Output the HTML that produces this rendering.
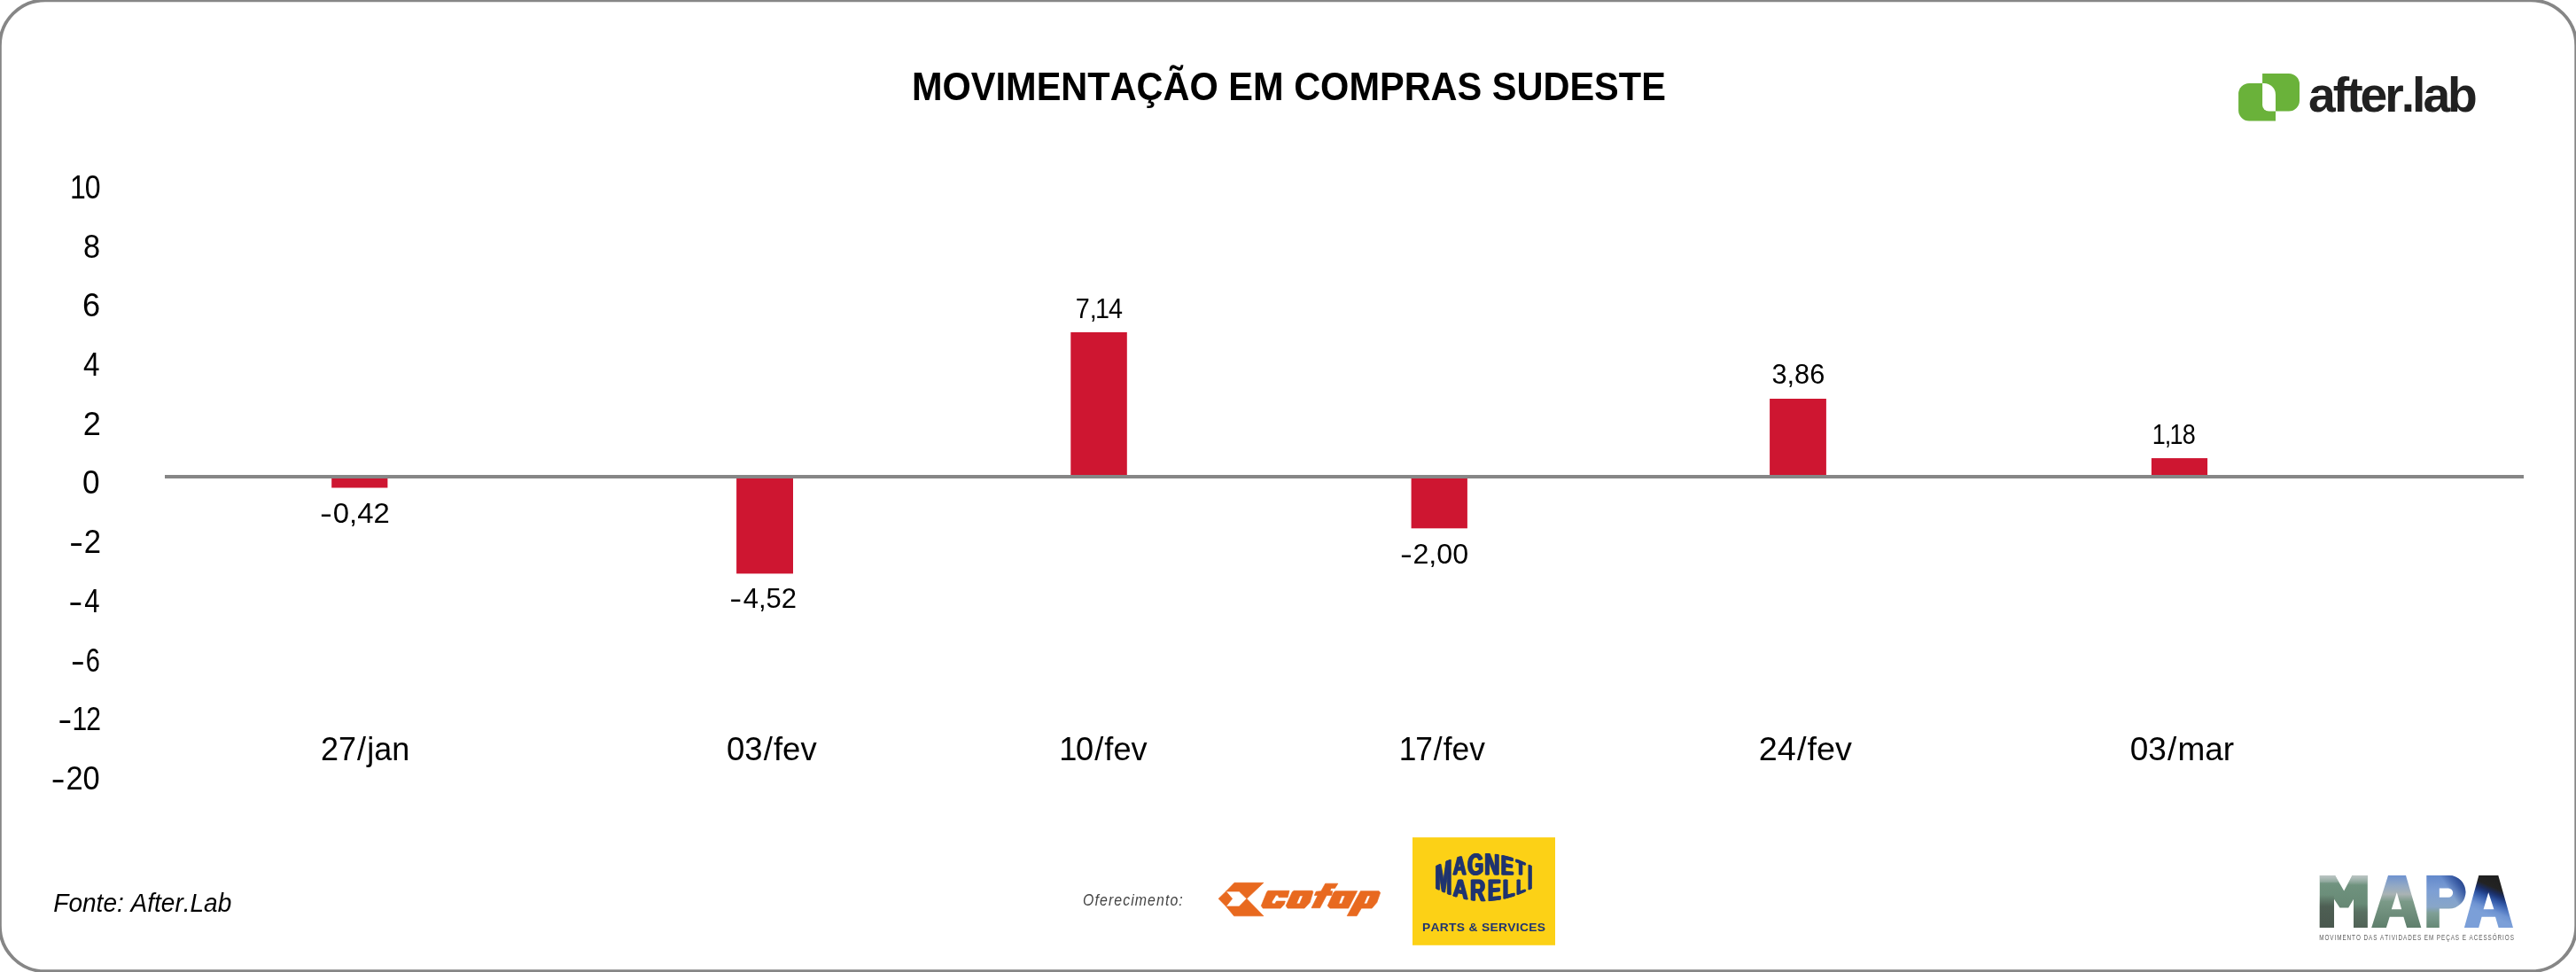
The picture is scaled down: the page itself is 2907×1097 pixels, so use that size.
<!DOCTYPE html>
<html lang="pt-BR"><head><meta charset="utf-8"><title>Movimentação em compras Sudeste</title>
<style>
html,body{margin:0;padding:0;background:#fff;}
body{width:2907px;height:1097px;overflow:hidden;font-family:"Liberation Sans",sans-serif;}
svg{display:block;position:absolute;left:0;top:0;will-change:transform;filter:opacity(0.9999);}
svg text{font-family:"Liberation Sans",sans-serif;font-kerning:none;white-space:pre;}
</style></head><body>
<svg width="2907" height="1097" viewBox="0 0 2907 1097">
<rect x="0" y="0" width="2907" height="1097" fill="#fff"/>

<rect x="-0.1" y="0.3" width="2907.3" height="1095.9" rx="51.1" ry="51.1" fill="#fff" stroke="#868686" stroke-width="3.8"/>
<text transform="translate(1029.02 112.90) scale(0.9394 1)" font-size="44.19" font-weight="bold" font-style="normal" fill="#000">MOVIMENTAÇÃO EM COMPRAS SUDESTE</text>
<text transform="translate(79.06 223.90) scale(0.8631 1)" font-size="37.09" font-weight="normal" font-style="normal" fill="#000" dx="0.00 -1.30">10</text>
<text transform="translate(94.01 290.60) scale(0.9250 1)" font-size="37.09" font-weight="normal" font-style="normal" fill="#000">8</text>
<text transform="translate(93.06 357.30) scale(0.9757 1)" font-size="37.09" font-weight="normal" font-style="normal" fill="#000">6</text>
<text transform="translate(94.03 424.00) scale(0.8988 1)" font-size="37.09" font-weight="normal" font-style="normal" fill="#000">4</text>
<text transform="translate(93.78 490.70) scale(0.9764 1)" font-size="37.09" font-weight="normal" font-style="normal" fill="#000">2</text>
<text transform="translate(92.93 557.40) scale(0.9475 1)" font-size="37.09" font-weight="normal" font-style="normal" fill="#000">0</text>
<text transform="translate(77.94 624.10) scale(1.3107 1)" font-size="37.09" font-weight="normal" font-style="normal" fill="#000">-</text>
<text transform="translate(94.86 624.10) scale(0.9346 1)" font-size="37.09" font-weight="normal" font-style="normal" fill="#000">2</text>
<text transform="translate(77.34 690.80) scale(1.3107 1)" font-size="37.09" font-weight="normal" font-style="normal" fill="#000">-</text>
<text transform="translate(95.29 690.80) scale(0.8396 1)" font-size="37.09" font-weight="normal" font-style="normal" fill="#000">4</text>
<text transform="translate(79.64 757.50) scale(1.3107 1)" font-size="37.09" font-weight="normal" font-style="normal" fill="#000">-</text>
<text transform="translate(96.83 757.50) scale(0.7825 1)" font-size="37.09" font-weight="normal" font-style="normal" fill="#000">6</text>
<text transform="translate(65.14 824.20) scale(1.3107 1)" font-size="37.09" font-weight="normal" font-style="normal" fill="#000">-</text>
<text transform="translate(81.52 824.20) scale(0.8107 1)" font-size="37.09" font-weight="normal" font-style="normal" fill="#000" dx="0.00 -1.30">12</text>
<text transform="translate(57.54 890.90) scale(1.3107 1)" font-size="37.09" font-weight="normal" font-style="normal" fill="#000">-</text>
<text transform="translate(74.48 890.90) scale(0.9275 1)" font-size="37.09" font-weight="normal" font-style="normal" fill="#000">20</text>
<rect x="374.2" y="540" width="63.2" height="10.5" fill="#ce1631"/>
<rect x="831.1" y="540" width="63.9" height="107.4" fill="#ce1631"/>
<rect x="1208.3" y="375" width="63.5" height="161.0" fill="#ce1631"/>
<rect x="1592.6" y="540" width="63.3" height="56.3" fill="#ce1631"/>
<rect x="1997.1" y="450" width="63.8" height="86.0" fill="#ce1631"/>
<rect x="2427.9" y="517.1" width="63.2" height="18.9" fill="#ce1631"/>
<rect x="186" y="536" width="2662" height="4" fill="#868686"/>
<text transform="translate(361.04 590.00) scale(1.3107 1)" font-size="31.94" font-weight="normal" font-style="normal" fill="#000">-</text>
<text transform="translate(375.83 590.00) scale(1.0301 1)" font-size="31.94" font-weight="normal" font-style="normal" fill="#000">0,42</text>
<text transform="translate(823.34 685.60) scale(1.3107 1)" font-size="31.94" font-weight="normal" font-style="normal" fill="#000">-</text>
<text transform="translate(838.70 685.60) scale(0.9694 1)" font-size="31.94" font-weight="normal" font-style="normal" fill="#000">4,52</text>
<text transform="translate(1213.83 358.80) scale(0.9001 1)" font-size="31.94" font-weight="normal" font-style="normal" fill="#000" dx="0.00 0.00 -1.92 -1.12">7,14</text>
<text transform="translate(1579.94 635.90) scale(1.3107 1)" font-size="31.94" font-weight="normal" font-style="normal" fill="#000">-</text>
<text transform="translate(1594.39 635.90) scale(1.0098 1)" font-size="31.94" font-weight="normal" font-style="normal" fill="#000">2,00</text>
<text transform="translate(1999.43 433.40) scale(0.9624 1)" font-size="31.94" font-weight="normal" font-style="normal" fill="#000">3,86</text>
<text transform="translate(2428.64 500.90) scale(0.8452 1)" font-size="31.94" font-weight="normal" font-style="normal" fill="#000" dx="0.00 -1.12 -1.92 -1.12">1,18</text>
<text transform="translate(361.99 857.70) scale(0.9819 1)" font-size="36.66" font-weight="normal" font-style="normal" fill="#000" dx="0.00 0.00 1.10 1.10 0.00 0.00">27/jan</text>
<text transform="translate(819.97 857.70) scale(0.9968 1)" font-size="36.66" font-weight="normal" font-style="normal" fill="#000" dx="0.00 0.00 1.10 1.10 0.00 0.00">03/fev</text>
<text transform="translate(1195.14 857.70) scale(0.9870 1)" font-size="36.66" font-weight="normal" font-style="normal" fill="#000" dx="0.00 -1.28 1.10 1.10 0.00 0.00">10/fev</text>
<text transform="translate(1578.71 857.70) scale(0.9645 1)" font-size="36.66" font-weight="normal" font-style="normal" fill="#000" dx="0.00 -1.28 1.10 1.10 0.00 0.00">17/fev</text>
<text transform="translate(1984.80 857.70) scale(1.0309 1)" font-size="36.66" font-weight="normal" font-style="normal" fill="#000" dx="0.00 0.00 1.10 1.10 0.00 0.00">24/fev</text>
<text transform="translate(2403.75 857.70) scale(1.0090 1)" font-size="36.66" font-weight="normal" font-style="normal" fill="#000" dx="0.00 0.00 1.10 1.10 0.00 0.00">03/mar</text>
<text transform="translate(60.34 1029.00) scale(0.9692 1)" font-size="28.92" font-weight="normal" font-style="italic" fill="#000">Fonte: After.Lab</text>
<text transform="translate(1222.04 1021.60) scale(0.8401 1)" font-size="18.90" font-weight="normal" font-style="italic" fill="#444" letter-spacing="1.300">Oferecimento:</text>
<g id="afterlab">
<path fill="#6ab23a" d="M2538.1 93.9H2568V136.6H2538.1A12 12 0 0 1 2526.1 124.6V105.9A12 12 0 0 1 2538.1 93.9Z"/>
<path fill="#6ab23a" d="M2553.1 83.05H2583A12 12 0 0 1 2595 95.05V113.6A12 12 0 0 1 2583 125.6H2553.1Z"/>
<path fill="#fff" d="M2553.1 93.9H2555A13 13 0 0 1 2568 106.9V125.6H2560.3A7.2 7.2 0 0 1 2553.1 118.4Z"/>
</g>
<text transform="translate(2605.08 126.10) scale(1.0066 1)" font-size="54.89" font-weight="bold" font-style="normal" fill="#212121" letter-spacing="-3.000">after.lab</text>
<g id="cofap" fill="#e8691f" stroke="#e8691f" stroke-width="0.7" stroke-linejoin="round">
<polygon points="1383.6,1006.0 1393.0,996.3 1425.9,996.3 1406.9,1014.3 1398.4,1006.0"/>
<polygon points="1383.6,1023.0 1392.6,1033.8 1425.9,1033.8 1406.9,1014.3 1398.4,1023.0"/>
<polygon points="1375.1,1014.3 1383.6,1006.0 1390.6,1014.3 1383.6,1023.0"/>
<polygon points="1430.9,1005.3 1455.0,1005.3 1453.1,1012.8 1443.2,1012.8 1442.2,1010.2 1439.9,1010.2 1435.1,1018.0 1436.1,1019.9 1438.9,1019.9 1440.4,1017.1 1450.3,1017.1 1449.3,1020.4 1445.1,1025.1 1425.2,1025.1 1423.3,1022.3 1429.5,1007.1"/>
<path fill-rule="evenodd" d="M1460.2,1005.3 1481.1,1005.3 1481.8,1006.7 1478.2,1018.5 1472.1,1025.1 1453.1,1025.1 1451.2,1022.3 1458.3,1006.7Z M1466.9,1010.9 1470.4,1010.9 1466.6,1019.9 1463.1,1019.9Z"/>
<polygon points="1495.6,997.2 1509.8,997.2 1506.5,1002.4 1502.2,1002.4 1500.8,1005.7 1503.7,1005.7 1502.7,1010.5 1497.0,1010.5 1489.5,1024.7 1480.0,1024.7 1487.1,1010.5 1483.3,1010.5 1485.2,1006.2 1490.9,1005.7"/>
<path fill-rule="evenodd" d="M1507.0,1005.7 1531.6,1005.7 1521.7,1025.1 1500.8,1025.1 1498.2,1022.3 1505.1,1007.1Z M1514.1,1010.9 1517.9,1010.9 1514.1,1019.9 1510.8,1019.9Z"/>
<path fill-rule="evenodd" d="M1535.4,1005.7 1556.2,1005.7 1557.6,1007.6 1553.8,1018.5 1548.2,1025.1 1536.3,1025.1 1531.1,1033.7 1520.2,1033.7Z M1543.0,1010.9 1546.3,1010.9 1542.5,1019.9 1539.2,1019.9Z"/>
</g>
<g id="mm"><rect x="1594" y="945.1" width="161" height="121.7" fill="#fcd116"/>
<g fill="#1f3470" stroke="#1f3470" stroke-width="0.7" stroke-linejoin="round"><path transform="translate(-0.65 0)" d="M1633.9 1008.7L1633.9 1005.5L1633.9 1002.2L1633.9 999.0L1633.9 995.8L1633.9 992.6L1633.9 989.4L1633.9 986.2L1633.9 985.9L1633.9 985.5L1633.9 985.2L1633.9 984.9L1633.9 984.6L1633.9 984.1L1633.9 983.2L1633.9 981.9L1633.9 980.2L1634.0 978.0L1633.7 980.8L1633.4 983.1L1633.2 985.1L1633.0 986.7L1632.8 988.0L1632.4 990.9L1632.0 993.7L1631.6 996.5L1631.2 999.2L1630.8 1001.9L1630.4 1004.5L1630.1 1007.1L1627.8 1006.1L1627.4 1003.4L1627.0 1000.7L1626.6 998.1L1626.2 995.6L1625.8 993.2L1625.4 990.7L1625.0 988.4L1624.6 985.9L1624.2 983.4L1623.8 981.0L1623.9 982.7L1623.9 984.2L1623.9 985.4L1623.9 986.4L1623.9 987.1L1623.9 989.5L1623.9 992.0L1623.9 994.4L1623.9 996.9L1623.9 999.3L1623.9 1001.8L1623.9 1004.2L1622.5 1003.5L1621.1 1002.8L1621.1 1000.7L1621.1 998.6L1621.1 996.4L1621.1 994.3L1621.1 992.2L1621.1 990.1L1621.1 988.0L1621.1 985.9L1621.1 983.8L1621.1 981.6L1621.1 979.5L1621.1 977.4L1622.5 976.7L1624.0 976.0L1625.4 975.3L1625.8 977.5L1626.2 979.7L1626.6 982.1L1627.0 984.5L1627.4 986.9L1627.8 989.4L1628.2 992.0L1628.4 993.8L1628.9 998.3L1629.3 995.7L1629.6 993.0L1630.0 990.2L1630.4 987.3L1630.8 984.4L1631.2 981.4L1631.6 978.4L1632.0 975.3L1632.4 972.1L1633.9 971.5L1635.3 971.0L1636.7 970.4L1636.7 973.7L1636.7 977.0L1636.7 980.3L1636.7 983.5L1636.7 986.8L1636.7 990.1L1636.7 993.4L1636.7 996.7L1636.7 999.9L1636.7 1003.2L1636.7 1006.5L1636.7 1009.8ZM1725.5 1004.0L1725.5 1001.7L1725.5 999.3L1725.5 997.0L1725.5 994.7L1725.5 992.4L1725.5 990.1L1725.5 987.8L1725.5 985.5L1725.5 983.2L1725.5 980.9L1725.5 978.5L1725.5 976.2L1726.7 976.8L1727.8 977.4L1727.8 979.5L1727.8 981.6L1727.8 983.8L1727.8 985.9L1727.8 988.0L1727.8 990.1L1727.8 992.2L1727.8 994.3L1727.8 996.4L1727.8 998.6L1727.8 1000.7L1727.8 1002.8ZM1651.1 987.1L1650.7 985.4L1650.2 983.6L1649.8 981.9L1648.5 981.9L1647.1 982.0L1645.8 982.1L1644.4 982.2L1644.0 983.9L1643.6 985.5L1643.1 987.1L1641.7 987.1L1640.2 987.1L1640.6 985.6L1641.0 984.1L1641.5 982.6L1641.9 981.0L1642.3 979.4L1642.8 977.8L1643.2 976.1L1643.6 974.5L1644.1 972.8L1644.5 971.1L1644.9 969.3L1645.3 967.6L1646.5 967.3L1647.7 967.0L1648.9 966.7L1649.3 968.3L1649.7 969.9L1650.1 971.5L1650.6 973.2L1651.0 974.9L1651.4 976.6L1651.9 978.3L1652.3 980.1L1652.7 981.8L1653.2 983.6L1653.6 985.4L1654.0 987.1ZM1647.1 970.2L1647.0 970.5L1647.0 970.8L1647.0 971.0L1646.9 971.2L1646.9 971.5L1646.8 971.7L1646.7 972.3L1646.5 973.3L1646.1 974.8L1645.6 976.7L1645.1 979.1L1646.4 979.0L1647.8 978.8L1649.1 978.7L1648.7 976.7L1648.2 974.9L1647.7 973.0L1647.3 971.1ZM1665.3 983.7L1665.8 983.6L1666.3 983.6L1666.8 983.4L1667.3 983.3L1667.8 983.1L1668.3 982.8L1668.7 982.6L1669.1 982.3L1669.4 982.0L1669.7 981.6L1669.7 978.4L1668.4 978.4L1667.1 978.4L1665.8 978.5L1665.8 974.8L1667.2 974.8L1668.6 974.7L1670.0 974.7L1671.3 974.7L1672.7 974.7L1672.7 976.8L1672.7 979.0L1672.7 981.2L1672.7 983.4L1672.2 984.1L1671.6 984.8L1670.9 985.4L1670.2 985.9L1669.4 986.4L1668.6 986.8L1667.8 987.1L1666.9 987.3L1666.1 987.4L1665.2 987.5L1663.7 987.4L1662.3 987.0L1661.2 986.4L1660.1 985.5L1659.2 984.4L1658.4 983.1L1657.8 981.6L1657.4 979.9L1657.2 978.0L1657.1 975.9L1657.2 973.8L1657.4 971.9L1657.9 970.2L1658.4 968.6L1659.2 967.2L1660.1 966.0L1661.2 965.1L1662.4 964.3L1663.7 963.8L1665.3 963.5L1667.3 963.6L1669.1 964.2L1670.5 965.4L1671.6 967.1L1672.4 969.3L1670.9 970.0L1669.3 970.7L1669.1 970.1L1668.8 969.5L1668.5 968.9L1668.2 968.5L1667.8 968.1L1667.3 967.8L1666.8 967.6L1666.3 967.4L1665.8 967.3L1665.3 967.4L1664.4 967.5L1663.6 967.8L1662.8 968.3L1662.2 968.9L1661.7 969.7L1661.2 970.7L1660.9 971.7L1660.7 972.9L1660.5 974.2L1660.5 975.7L1660.5 977.1L1660.7 978.5L1660.9 979.7L1661.3 980.7L1661.7 981.6L1662.3 982.3L1662.9 982.9L1663.6 983.3L1664.4 983.6L1665.3 983.7ZM1686.8 987.1L1686.0 985.2L1685.2 983.2L1684.4 981.2L1683.6 979.2L1682.8 977.2L1682.1 975.1L1681.3 973.1L1680.5 971.0L1679.7 969.0L1679.8 970.0L1679.8 971.0L1679.9 971.8L1679.9 972.6L1679.9 973.3L1679.9 975.2L1679.9 977.2L1679.9 979.2L1679.9 981.2L1679.9 983.2L1679.9 985.2L1679.9 987.1L1678.4 987.1L1676.9 987.1L1676.9 985.2L1676.9 983.2L1676.9 981.2L1676.9 979.3L1676.9 977.3L1676.9 975.3L1676.9 973.3L1676.9 971.4L1676.9 969.4L1676.9 967.4L1676.9 965.5L1676.9 963.5L1678.2 963.5L1679.5 963.6L1680.8 963.6L1681.6 965.7L1682.4 967.8L1683.2 969.9L1684.0 971.9L1684.8 974.0L1685.5 976.0L1686.3 978.0L1687.1 980.1L1687.9 982.1L1687.9 981.1L1687.8 980.2L1687.8 979.3L1687.7 978.4L1687.7 977.6L1687.7 975.7L1687.7 973.8L1687.7 971.9L1687.7 970.0L1687.7 968.1L1687.7 966.2L1687.7 964.3L1689.2 964.5L1690.7 964.8L1690.7 966.6L1690.7 968.5L1690.7 970.4L1690.7 972.2L1690.7 974.1L1690.7 976.0L1690.7 977.8L1690.7 979.7L1690.7 981.6L1690.7 983.4L1690.7 985.3L1690.7 987.1ZM1695.3 987.1L1695.3 985.4L1695.3 983.6L1695.3 981.8L1695.3 980.0L1695.3 978.2L1695.3 976.4L1695.3 974.6L1695.3 972.8L1695.3 971.0L1695.3 969.2L1695.3 967.4L1695.3 965.6L1696.4 965.8L1697.6 966.1L1698.7 966.3L1699.9 966.6L1701.1 966.9L1702.2 967.2L1703.4 967.6L1704.6 967.9L1705.7 968.2L1706.9 968.6L1706.9 970.1L1706.9 971.6L1705.7 971.3L1704.4 971.0L1703.2 970.7L1702.0 970.4L1700.8 970.1L1699.6 969.9L1698.4 969.6L1698.4 971.4L1698.4 973.1L1698.4 974.9L1699.7 975.1L1701.0 975.3L1702.3 975.5L1703.6 975.7L1704.9 975.9L1706.2 976.1L1706.2 977.7L1706.2 979.2L1704.9 979.0L1703.6 978.8L1702.3 978.7L1701.0 978.5L1699.7 978.4L1698.4 978.3L1698.4 980.1L1698.4 981.9L1698.4 983.8L1699.6 983.8L1700.9 983.9L1702.2 983.9L1703.5 984.0L1704.7 984.0L1706.0 984.1L1707.3 984.2L1707.3 985.7L1707.3 987.1ZM1717.3 974.8L1717.3 976.0L1717.3 977.3L1717.3 978.5L1717.3 979.7L1717.3 981.0L1717.3 982.2L1717.3 983.4L1717.3 984.7L1717.3 985.9L1717.3 987.1L1716.0 987.1L1714.8 987.1L1714.8 985.8L1714.8 984.5L1714.8 983.2L1714.8 981.9L1714.8 980.6L1714.8 979.3L1714.8 977.9L1714.8 976.6L1714.8 975.3L1714.8 974.0L1713.9 973.7L1713.0 973.4L1712.0 973.1L1711.1 972.8L1711.1 971.4L1711.1 970.0L1712.1 970.4L1713.1 970.8L1714.1 971.1L1715.1 971.5L1716.0 971.9L1717.0 972.3L1718.0 972.8L1719.0 973.2L1720.0 973.6L1721.0 974.1L1721.0 975.1L1721.0 976.2ZM1652.5 1014.4L1652.0 1012.5L1651.5 1010.6L1651.1 1008.7L1649.5 1008.4L1648.0 1008.1L1646.5 1007.8L1645.0 1007.5L1644.5 1009.1L1644.0 1010.6L1643.5 1012.1L1641.8 1011.5L1640.2 1011.0L1640.7 1009.6L1641.1 1008.3L1641.6 1006.9L1642.1 1005.4L1642.6 1004.0L1643.1 1002.5L1643.6 1001.0L1644.1 999.4L1644.6 997.9L1645.0 996.3L1645.5 994.7L1646.0 993.1L1647.3 993.1L1648.7 993.1L1650.0 993.1L1650.5 994.8L1651.0 996.5L1651.4 998.3L1651.9 1000.1L1652.4 1001.9L1652.9 1003.8L1653.4 1005.6L1653.9 1007.5L1654.4 1009.3L1654.8 1011.2L1655.3 1013.1L1655.8 1015.0ZM1648.0 996.2L1647.9 996.5L1647.9 996.7L1647.8 996.9L1647.8 997.1L1647.7 997.4L1647.7 997.6L1647.5 998.1L1647.3 999.1L1646.9 1000.5L1646.4 1002.3L1645.7 1004.6L1647.2 1004.8L1648.8 1005.1L1650.3 1005.3L1649.8 1003.2L1649.3 1001.2L1648.7 999.2L1648.2 997.2ZM1671.8 1016.7L1670.9 1014.4L1669.9 1012.2L1669.0 1009.9L1668.1 1007.6L1666.7 1007.6L1665.4 1007.5L1664.1 1007.4L1664.1 1009.6L1664.1 1011.8L1664.1 1014.0L1664.1 1016.2L1662.4 1016.0L1660.7 1015.8L1660.7 1013.9L1660.7 1012.0L1660.7 1010.1L1660.7 1008.2L1660.7 1006.3L1660.7 1004.4L1660.7 1002.5L1660.7 1000.6L1660.7 998.7L1660.7 996.8L1660.7 994.9L1660.7 993.1L1662.0 993.1L1663.4 993.1L1664.7 993.1L1666.1 993.1L1667.4 993.1L1668.8 993.1L1669.9 993.1L1670.9 993.3L1671.8 993.7L1672.6 994.2L1673.2 994.9L1673.8 995.7L1674.2 996.6L1674.6 997.6L1674.8 998.8L1674.8 1000.1L1674.8 1001.1L1674.7 1002.0L1674.5 1002.9L1674.2 1003.7L1673.9 1004.4L1673.4 1005.1L1673.0 1005.7L1672.4 1006.1L1671.9 1006.5L1671.2 1006.8L1672.1 1008.8L1673.0 1010.8L1673.9 1012.8L1674.7 1014.8L1675.6 1016.7ZM1671.4 1000.3L1671.3 999.1L1670.9 998.1L1670.3 997.4L1669.5 997.0L1668.4 996.9L1667.0 996.9L1665.5 996.8L1664.1 996.8L1664.1 999.1L1664.1 1001.4L1664.1 1003.7L1665.6 1003.7L1667.0 1003.8L1668.5 1003.8L1669.1 1003.8L1669.5 1003.7L1670.0 1003.5L1670.3 1003.3L1670.7 1002.9L1670.9 1002.5L1671.1 1002.1L1671.3 1001.5L1671.4 1001.0L1671.4 1000.3ZM1680.5 1016.6L1680.5 1014.6L1680.5 1012.7L1680.5 1010.7L1680.5 1008.7L1680.5 1006.8L1680.5 1004.8L1680.5 1002.9L1680.5 1000.9L1680.5 998.9L1680.5 997.0L1680.5 995.0L1680.5 993.1L1681.7 993.1L1682.9 993.1L1684.1 993.1L1685.3 993.1L1686.5 993.1L1687.7 993.1L1688.9 993.1L1690.1 993.1L1691.3 993.1L1692.5 993.1L1692.5 994.8L1692.5 996.6L1691.2 996.7L1690.0 996.7L1688.7 996.7L1687.4 996.8L1686.2 996.8L1684.9 996.8L1683.7 996.8L1683.7 998.8L1683.7 1000.7L1683.7 1002.7L1685.0 1002.6L1686.4 1002.6L1687.7 1002.5L1689.1 1002.4L1690.4 1002.3L1691.8 1002.2L1691.8 1004.0L1691.8 1005.8L1690.4 1006.0L1689.1 1006.1L1687.7 1006.2L1686.4 1006.3L1685.0 1006.4L1683.7 1006.4L1683.7 1008.5L1683.7 1010.5L1683.7 1012.6L1685.0 1012.5L1686.3 1012.3L1687.6 1012.2L1689.0 1012.1L1690.3 1011.9L1691.6 1011.7L1692.9 1011.5L1692.9 1013.3L1692.9 1015.1ZM1697.4 1014.2L1697.4 1012.4L1697.4 1010.6L1697.4 1008.9L1697.4 1007.1L1697.4 1005.4L1697.4 1003.6L1697.4 1001.8L1697.4 1000.1L1697.4 998.3L1697.4 996.6L1697.4 994.8L1697.4 993.1L1699.0 993.1L1700.6 993.1L1700.6 994.8L1700.6 996.5L1700.6 998.2L1700.6 999.9L1700.6 1001.6L1700.6 1003.3L1700.6 1005.0L1700.6 1006.7L1700.6 1008.4L1700.6 1010.1L1702.0 1009.8L1703.3 1009.5L1704.7 1009.2L1706.0 1008.8L1707.4 1008.5L1708.7 1008.1L1708.7 1009.5L1708.7 1011.0ZM1712.5 1009.6L1712.5 1008.3L1712.5 1006.9L1712.5 1005.5L1712.5 1004.1L1712.5 1002.7L1712.5 1001.3L1712.5 1000.0L1712.5 998.6L1712.5 997.2L1712.5 995.8L1712.5 994.4L1712.5 993.1L1713.7 993.1L1714.9 993.1L1714.9 994.4L1714.9 995.7L1714.9 997.0L1714.9 998.3L1714.9 999.6L1714.9 1000.9L1714.9 1002.2L1714.9 1003.6L1714.9 1004.9L1714.9 1006.2L1715.9 1005.8L1716.9 1005.5L1718.0 1005.1L1719.0 1004.8L1720.0 1004.4L1721.0 1004.0L1721.0 1005.1L1721.0 1006.1Z"/><path d="M1633.9 1008.7L1633.9 1005.5L1633.9 1002.2L1633.9 999.0L1633.9 995.8L1633.9 992.6L1633.9 989.4L1633.9 986.2L1633.9 985.9L1633.9 985.5L1633.9 985.2L1633.9 984.9L1633.9 984.6L1633.9 984.1L1633.9 983.2L1633.9 981.9L1633.9 980.2L1634.0 978.0L1633.7 980.8L1633.4 983.1L1633.2 985.1L1633.0 986.7L1632.8 988.0L1632.4 990.9L1632.0 993.7L1631.6 996.5L1631.2 999.2L1630.8 1001.9L1630.4 1004.5L1630.1 1007.1L1627.8 1006.1L1627.4 1003.4L1627.0 1000.7L1626.6 998.1L1626.2 995.6L1625.8 993.2L1625.4 990.7L1625.0 988.4L1624.6 985.9L1624.2 983.4L1623.8 981.0L1623.9 982.7L1623.9 984.2L1623.9 985.4L1623.9 986.4L1623.9 987.1L1623.9 989.5L1623.9 992.0L1623.9 994.4L1623.9 996.9L1623.9 999.3L1623.9 1001.8L1623.9 1004.2L1622.5 1003.5L1621.1 1002.8L1621.1 1000.7L1621.1 998.6L1621.1 996.4L1621.1 994.3L1621.1 992.2L1621.1 990.1L1621.1 988.0L1621.1 985.9L1621.1 983.8L1621.1 981.6L1621.1 979.5L1621.1 977.4L1622.5 976.7L1624.0 976.0L1625.4 975.3L1625.8 977.5L1626.2 979.7L1626.6 982.1L1627.0 984.5L1627.4 986.9L1627.8 989.4L1628.2 992.0L1628.4 993.8L1628.9 998.3L1629.3 995.7L1629.6 993.0L1630.0 990.2L1630.4 987.3L1630.8 984.4L1631.2 981.4L1631.6 978.4L1632.0 975.3L1632.4 972.1L1633.9 971.5L1635.3 971.0L1636.7 970.4L1636.7 973.7L1636.7 977.0L1636.7 980.3L1636.7 983.5L1636.7 986.8L1636.7 990.1L1636.7 993.4L1636.7 996.7L1636.7 999.9L1636.7 1003.2L1636.7 1006.5L1636.7 1009.8ZM1725.5 1004.0L1725.5 1001.7L1725.5 999.3L1725.5 997.0L1725.5 994.7L1725.5 992.4L1725.5 990.1L1725.5 987.8L1725.5 985.5L1725.5 983.2L1725.5 980.9L1725.5 978.5L1725.5 976.2L1726.7 976.8L1727.8 977.4L1727.8 979.5L1727.8 981.6L1727.8 983.8L1727.8 985.9L1727.8 988.0L1727.8 990.1L1727.8 992.2L1727.8 994.3L1727.8 996.4L1727.8 998.6L1727.8 1000.7L1727.8 1002.8ZM1651.1 987.1L1650.7 985.4L1650.2 983.6L1649.8 981.9L1648.5 981.9L1647.1 982.0L1645.8 982.1L1644.4 982.2L1644.0 983.9L1643.6 985.5L1643.1 987.1L1641.7 987.1L1640.2 987.1L1640.6 985.6L1641.0 984.1L1641.5 982.6L1641.9 981.0L1642.3 979.4L1642.8 977.8L1643.2 976.1L1643.6 974.5L1644.1 972.8L1644.5 971.1L1644.9 969.3L1645.3 967.6L1646.5 967.3L1647.7 967.0L1648.9 966.7L1649.3 968.3L1649.7 969.9L1650.1 971.5L1650.6 973.2L1651.0 974.9L1651.4 976.6L1651.9 978.3L1652.3 980.1L1652.7 981.8L1653.2 983.6L1653.6 985.4L1654.0 987.1ZM1647.1 970.2L1647.0 970.5L1647.0 970.8L1647.0 971.0L1646.9 971.2L1646.9 971.5L1646.8 971.7L1646.7 972.3L1646.5 973.3L1646.1 974.8L1645.6 976.7L1645.1 979.1L1646.4 979.0L1647.8 978.8L1649.1 978.7L1648.7 976.7L1648.2 974.9L1647.7 973.0L1647.3 971.1ZM1665.3 983.7L1665.8 983.6L1666.3 983.6L1666.8 983.4L1667.3 983.3L1667.8 983.1L1668.3 982.8L1668.7 982.6L1669.1 982.3L1669.4 982.0L1669.7 981.6L1669.7 978.4L1668.4 978.4L1667.1 978.4L1665.8 978.5L1665.8 974.8L1667.2 974.8L1668.6 974.7L1670.0 974.7L1671.3 974.7L1672.7 974.7L1672.7 976.8L1672.7 979.0L1672.7 981.2L1672.7 983.4L1672.2 984.1L1671.6 984.8L1670.9 985.4L1670.2 985.9L1669.4 986.4L1668.6 986.8L1667.8 987.1L1666.9 987.3L1666.1 987.4L1665.2 987.5L1663.7 987.4L1662.3 987.0L1661.2 986.4L1660.1 985.5L1659.2 984.4L1658.4 983.1L1657.8 981.6L1657.4 979.9L1657.2 978.0L1657.1 975.9L1657.2 973.8L1657.4 971.9L1657.9 970.2L1658.4 968.6L1659.2 967.2L1660.1 966.0L1661.2 965.1L1662.4 964.3L1663.7 963.8L1665.3 963.5L1667.3 963.6L1669.1 964.2L1670.5 965.4L1671.6 967.1L1672.4 969.3L1670.9 970.0L1669.3 970.7L1669.1 970.1L1668.8 969.5L1668.5 968.9L1668.2 968.5L1667.8 968.1L1667.3 967.8L1666.8 967.6L1666.3 967.4L1665.8 967.3L1665.3 967.4L1664.4 967.5L1663.6 967.8L1662.8 968.3L1662.2 968.9L1661.7 969.7L1661.2 970.7L1660.9 971.7L1660.7 972.9L1660.5 974.2L1660.5 975.7L1660.5 977.1L1660.7 978.5L1660.9 979.7L1661.3 980.7L1661.7 981.6L1662.3 982.3L1662.9 982.9L1663.6 983.3L1664.4 983.6L1665.3 983.7ZM1686.8 987.1L1686.0 985.2L1685.2 983.2L1684.4 981.2L1683.6 979.2L1682.8 977.2L1682.1 975.1L1681.3 973.1L1680.5 971.0L1679.7 969.0L1679.8 970.0L1679.8 971.0L1679.9 971.8L1679.9 972.6L1679.9 973.3L1679.9 975.2L1679.9 977.2L1679.9 979.2L1679.9 981.2L1679.9 983.2L1679.9 985.2L1679.9 987.1L1678.4 987.1L1676.9 987.1L1676.9 985.2L1676.9 983.2L1676.9 981.2L1676.9 979.3L1676.9 977.3L1676.9 975.3L1676.9 973.3L1676.9 971.4L1676.9 969.4L1676.9 967.4L1676.9 965.5L1676.9 963.5L1678.2 963.5L1679.5 963.6L1680.8 963.6L1681.6 965.7L1682.4 967.8L1683.2 969.9L1684.0 971.9L1684.8 974.0L1685.5 976.0L1686.3 978.0L1687.1 980.1L1687.9 982.1L1687.9 981.1L1687.8 980.2L1687.8 979.3L1687.7 978.4L1687.7 977.6L1687.7 975.7L1687.7 973.8L1687.7 971.9L1687.7 970.0L1687.7 968.1L1687.7 966.2L1687.7 964.3L1689.2 964.5L1690.7 964.8L1690.7 966.6L1690.7 968.5L1690.7 970.4L1690.7 972.2L1690.7 974.1L1690.7 976.0L1690.7 977.8L1690.7 979.7L1690.7 981.6L1690.7 983.4L1690.7 985.3L1690.7 987.1ZM1695.3 987.1L1695.3 985.4L1695.3 983.6L1695.3 981.8L1695.3 980.0L1695.3 978.2L1695.3 976.4L1695.3 974.6L1695.3 972.8L1695.3 971.0L1695.3 969.2L1695.3 967.4L1695.3 965.6L1696.4 965.8L1697.6 966.1L1698.7 966.3L1699.9 966.6L1701.1 966.9L1702.2 967.2L1703.4 967.6L1704.6 967.9L1705.7 968.2L1706.9 968.6L1706.9 970.1L1706.9 971.6L1705.7 971.3L1704.4 971.0L1703.2 970.7L1702.0 970.4L1700.8 970.1L1699.6 969.9L1698.4 969.6L1698.4 971.4L1698.4 973.1L1698.4 974.9L1699.7 975.1L1701.0 975.3L1702.3 975.5L1703.6 975.7L1704.9 975.9L1706.2 976.1L1706.2 977.7L1706.2 979.2L1704.9 979.0L1703.6 978.8L1702.3 978.7L1701.0 978.5L1699.7 978.4L1698.4 978.3L1698.4 980.1L1698.4 981.9L1698.4 983.8L1699.6 983.8L1700.9 983.9L1702.2 983.9L1703.5 984.0L1704.7 984.0L1706.0 984.1L1707.3 984.2L1707.3 985.7L1707.3 987.1ZM1717.3 974.8L1717.3 976.0L1717.3 977.3L1717.3 978.5L1717.3 979.7L1717.3 981.0L1717.3 982.2L1717.3 983.4L1717.3 984.7L1717.3 985.9L1717.3 987.1L1716.0 987.1L1714.8 987.1L1714.8 985.8L1714.8 984.5L1714.8 983.2L1714.8 981.9L1714.8 980.6L1714.8 979.3L1714.8 977.9L1714.8 976.6L1714.8 975.3L1714.8 974.0L1713.9 973.7L1713.0 973.4L1712.0 973.1L1711.1 972.8L1711.1 971.4L1711.1 970.0L1712.1 970.4L1713.1 970.8L1714.1 971.1L1715.1 971.5L1716.0 971.9L1717.0 972.3L1718.0 972.8L1719.0 973.2L1720.0 973.6L1721.0 974.1L1721.0 975.1L1721.0 976.2ZM1652.5 1014.4L1652.0 1012.5L1651.5 1010.6L1651.1 1008.7L1649.5 1008.4L1648.0 1008.1L1646.5 1007.8L1645.0 1007.5L1644.5 1009.1L1644.0 1010.6L1643.5 1012.1L1641.8 1011.5L1640.2 1011.0L1640.7 1009.6L1641.1 1008.3L1641.6 1006.9L1642.1 1005.4L1642.6 1004.0L1643.1 1002.5L1643.6 1001.0L1644.1 999.4L1644.6 997.9L1645.0 996.3L1645.5 994.7L1646.0 993.1L1647.3 993.1L1648.7 993.1L1650.0 993.1L1650.5 994.8L1651.0 996.5L1651.4 998.3L1651.9 1000.1L1652.4 1001.9L1652.9 1003.8L1653.4 1005.6L1653.9 1007.5L1654.4 1009.3L1654.8 1011.2L1655.3 1013.1L1655.8 1015.0ZM1648.0 996.2L1647.9 996.5L1647.9 996.7L1647.8 996.9L1647.8 997.1L1647.7 997.4L1647.7 997.6L1647.5 998.1L1647.3 999.1L1646.9 1000.5L1646.4 1002.3L1645.7 1004.6L1647.2 1004.8L1648.8 1005.1L1650.3 1005.3L1649.8 1003.2L1649.3 1001.2L1648.7 999.2L1648.2 997.2ZM1671.8 1016.7L1670.9 1014.4L1669.9 1012.2L1669.0 1009.9L1668.1 1007.6L1666.7 1007.6L1665.4 1007.5L1664.1 1007.4L1664.1 1009.6L1664.1 1011.8L1664.1 1014.0L1664.1 1016.2L1662.4 1016.0L1660.7 1015.8L1660.7 1013.9L1660.7 1012.0L1660.7 1010.1L1660.7 1008.2L1660.7 1006.3L1660.7 1004.4L1660.7 1002.5L1660.7 1000.6L1660.7 998.7L1660.7 996.8L1660.7 994.9L1660.7 993.1L1662.0 993.1L1663.4 993.1L1664.7 993.1L1666.1 993.1L1667.4 993.1L1668.8 993.1L1669.9 993.1L1670.9 993.3L1671.8 993.7L1672.6 994.2L1673.2 994.9L1673.8 995.7L1674.2 996.6L1674.6 997.6L1674.8 998.8L1674.8 1000.1L1674.8 1001.1L1674.7 1002.0L1674.5 1002.9L1674.2 1003.7L1673.9 1004.4L1673.4 1005.1L1673.0 1005.7L1672.4 1006.1L1671.9 1006.5L1671.2 1006.8L1672.1 1008.8L1673.0 1010.8L1673.9 1012.8L1674.7 1014.8L1675.6 1016.7ZM1671.4 1000.3L1671.3 999.1L1670.9 998.1L1670.3 997.4L1669.5 997.0L1668.4 996.9L1667.0 996.9L1665.5 996.8L1664.1 996.8L1664.1 999.1L1664.1 1001.4L1664.1 1003.7L1665.6 1003.7L1667.0 1003.8L1668.5 1003.8L1669.1 1003.8L1669.5 1003.7L1670.0 1003.5L1670.3 1003.3L1670.7 1002.9L1670.9 1002.5L1671.1 1002.1L1671.3 1001.5L1671.4 1001.0L1671.4 1000.3ZM1680.5 1016.6L1680.5 1014.6L1680.5 1012.7L1680.5 1010.7L1680.5 1008.7L1680.5 1006.8L1680.5 1004.8L1680.5 1002.9L1680.5 1000.9L1680.5 998.9L1680.5 997.0L1680.5 995.0L1680.5 993.1L1681.7 993.1L1682.9 993.1L1684.1 993.1L1685.3 993.1L1686.5 993.1L1687.7 993.1L1688.9 993.1L1690.1 993.1L1691.3 993.1L1692.5 993.1L1692.5 994.8L1692.5 996.6L1691.2 996.7L1690.0 996.7L1688.7 996.7L1687.4 996.8L1686.2 996.8L1684.9 996.8L1683.7 996.8L1683.7 998.8L1683.7 1000.7L1683.7 1002.7L1685.0 1002.6L1686.4 1002.6L1687.7 1002.5L1689.1 1002.4L1690.4 1002.3L1691.8 1002.2L1691.8 1004.0L1691.8 1005.8L1690.4 1006.0L1689.1 1006.1L1687.7 1006.2L1686.4 1006.3L1685.0 1006.4L1683.7 1006.4L1683.7 1008.5L1683.7 1010.5L1683.7 1012.6L1685.0 1012.5L1686.3 1012.3L1687.6 1012.2L1689.0 1012.1L1690.3 1011.9L1691.6 1011.7L1692.9 1011.5L1692.9 1013.3L1692.9 1015.1ZM1697.4 1014.2L1697.4 1012.4L1697.4 1010.6L1697.4 1008.9L1697.4 1007.1L1697.4 1005.4L1697.4 1003.6L1697.4 1001.8L1697.4 1000.1L1697.4 998.3L1697.4 996.6L1697.4 994.8L1697.4 993.1L1699.0 993.1L1700.6 993.1L1700.6 994.8L1700.6 996.5L1700.6 998.2L1700.6 999.9L1700.6 1001.6L1700.6 1003.3L1700.6 1005.0L1700.6 1006.7L1700.6 1008.4L1700.6 1010.1L1702.0 1009.8L1703.3 1009.5L1704.7 1009.2L1706.0 1008.8L1707.4 1008.5L1708.7 1008.1L1708.7 1009.5L1708.7 1011.0ZM1712.5 1009.6L1712.5 1008.3L1712.5 1006.9L1712.5 1005.5L1712.5 1004.1L1712.5 1002.7L1712.5 1001.3L1712.5 1000.0L1712.5 998.6L1712.5 997.2L1712.5 995.8L1712.5 994.4L1712.5 993.1L1713.7 993.1L1714.9 993.1L1714.9 994.4L1714.9 995.7L1714.9 997.0L1714.9 998.3L1714.9 999.6L1714.9 1000.9L1714.9 1002.2L1714.9 1003.6L1714.9 1004.9L1714.9 1006.2L1715.9 1005.8L1716.9 1005.5L1718.0 1005.1L1719.0 1004.8L1720.0 1004.4L1721.0 1004.0L1721.0 1005.1L1721.0 1006.1Z"/><path transform="translate(0.65 0)" d="M1633.9 1008.7L1633.9 1005.5L1633.9 1002.2L1633.9 999.0L1633.9 995.8L1633.9 992.6L1633.9 989.4L1633.9 986.2L1633.9 985.9L1633.9 985.5L1633.9 985.2L1633.9 984.9L1633.9 984.6L1633.9 984.1L1633.9 983.2L1633.9 981.9L1633.9 980.2L1634.0 978.0L1633.7 980.8L1633.4 983.1L1633.2 985.1L1633.0 986.7L1632.8 988.0L1632.4 990.9L1632.0 993.7L1631.6 996.5L1631.2 999.2L1630.8 1001.9L1630.4 1004.5L1630.1 1007.1L1627.8 1006.1L1627.4 1003.4L1627.0 1000.7L1626.6 998.1L1626.2 995.6L1625.8 993.2L1625.4 990.7L1625.0 988.4L1624.6 985.9L1624.2 983.4L1623.8 981.0L1623.9 982.7L1623.9 984.2L1623.9 985.4L1623.9 986.4L1623.9 987.1L1623.9 989.5L1623.9 992.0L1623.9 994.4L1623.9 996.9L1623.9 999.3L1623.9 1001.8L1623.9 1004.2L1622.5 1003.5L1621.1 1002.8L1621.1 1000.7L1621.1 998.6L1621.1 996.4L1621.1 994.3L1621.1 992.2L1621.1 990.1L1621.1 988.0L1621.1 985.9L1621.1 983.8L1621.1 981.6L1621.1 979.5L1621.1 977.4L1622.5 976.7L1624.0 976.0L1625.4 975.3L1625.8 977.5L1626.2 979.7L1626.6 982.1L1627.0 984.5L1627.4 986.9L1627.8 989.4L1628.2 992.0L1628.4 993.8L1628.9 998.3L1629.3 995.7L1629.6 993.0L1630.0 990.2L1630.4 987.3L1630.8 984.4L1631.2 981.4L1631.6 978.4L1632.0 975.3L1632.4 972.1L1633.9 971.5L1635.3 971.0L1636.7 970.4L1636.7 973.7L1636.7 977.0L1636.7 980.3L1636.7 983.5L1636.7 986.8L1636.7 990.1L1636.7 993.4L1636.7 996.7L1636.7 999.9L1636.7 1003.2L1636.7 1006.5L1636.7 1009.8ZM1725.5 1004.0L1725.5 1001.7L1725.5 999.3L1725.5 997.0L1725.5 994.7L1725.5 992.4L1725.5 990.1L1725.5 987.8L1725.5 985.5L1725.5 983.2L1725.5 980.9L1725.5 978.5L1725.5 976.2L1726.7 976.8L1727.8 977.4L1727.8 979.5L1727.8 981.6L1727.8 983.8L1727.8 985.9L1727.8 988.0L1727.8 990.1L1727.8 992.2L1727.8 994.3L1727.8 996.4L1727.8 998.6L1727.8 1000.7L1727.8 1002.8ZM1651.1 987.1L1650.7 985.4L1650.2 983.6L1649.8 981.9L1648.5 981.9L1647.1 982.0L1645.8 982.1L1644.4 982.2L1644.0 983.9L1643.6 985.5L1643.1 987.1L1641.7 987.1L1640.2 987.1L1640.6 985.6L1641.0 984.1L1641.5 982.6L1641.9 981.0L1642.3 979.4L1642.8 977.8L1643.2 976.1L1643.6 974.5L1644.1 972.8L1644.5 971.1L1644.9 969.3L1645.3 967.6L1646.5 967.3L1647.7 967.0L1648.9 966.7L1649.3 968.3L1649.7 969.9L1650.1 971.5L1650.6 973.2L1651.0 974.9L1651.4 976.6L1651.9 978.3L1652.3 980.1L1652.7 981.8L1653.2 983.6L1653.6 985.4L1654.0 987.1ZM1647.1 970.2L1647.0 970.5L1647.0 970.8L1647.0 971.0L1646.9 971.2L1646.9 971.5L1646.8 971.7L1646.7 972.3L1646.5 973.3L1646.1 974.8L1645.6 976.7L1645.1 979.1L1646.4 979.0L1647.8 978.8L1649.1 978.7L1648.7 976.7L1648.2 974.9L1647.7 973.0L1647.3 971.1ZM1665.3 983.7L1665.8 983.6L1666.3 983.6L1666.8 983.4L1667.3 983.3L1667.8 983.1L1668.3 982.8L1668.7 982.6L1669.1 982.3L1669.4 982.0L1669.7 981.6L1669.7 978.4L1668.4 978.4L1667.1 978.4L1665.8 978.5L1665.8 974.8L1667.2 974.8L1668.6 974.7L1670.0 974.7L1671.3 974.7L1672.7 974.7L1672.7 976.8L1672.7 979.0L1672.7 981.2L1672.7 983.4L1672.2 984.1L1671.6 984.8L1670.9 985.4L1670.2 985.9L1669.4 986.4L1668.6 986.8L1667.8 987.1L1666.9 987.3L1666.1 987.4L1665.2 987.5L1663.7 987.4L1662.3 987.0L1661.2 986.4L1660.1 985.5L1659.2 984.4L1658.4 983.1L1657.8 981.6L1657.4 979.9L1657.2 978.0L1657.1 975.9L1657.2 973.8L1657.4 971.9L1657.9 970.2L1658.4 968.6L1659.2 967.2L1660.1 966.0L1661.2 965.1L1662.4 964.3L1663.7 963.8L1665.3 963.5L1667.3 963.6L1669.1 964.2L1670.5 965.4L1671.6 967.1L1672.4 969.3L1670.9 970.0L1669.3 970.7L1669.1 970.1L1668.8 969.5L1668.5 968.9L1668.2 968.5L1667.8 968.1L1667.3 967.8L1666.8 967.6L1666.3 967.4L1665.8 967.3L1665.3 967.4L1664.4 967.5L1663.6 967.8L1662.8 968.3L1662.2 968.9L1661.7 969.7L1661.2 970.7L1660.9 971.7L1660.7 972.9L1660.5 974.2L1660.5 975.7L1660.5 977.1L1660.7 978.5L1660.9 979.7L1661.3 980.7L1661.7 981.6L1662.3 982.3L1662.9 982.9L1663.6 983.3L1664.4 983.6L1665.3 983.7ZM1686.8 987.1L1686.0 985.2L1685.2 983.2L1684.4 981.2L1683.6 979.2L1682.8 977.2L1682.1 975.1L1681.3 973.1L1680.5 971.0L1679.7 969.0L1679.8 970.0L1679.8 971.0L1679.9 971.8L1679.9 972.6L1679.9 973.3L1679.9 975.2L1679.9 977.2L1679.9 979.2L1679.9 981.2L1679.9 983.2L1679.9 985.2L1679.9 987.1L1678.4 987.1L1676.9 987.1L1676.9 985.2L1676.9 983.2L1676.9 981.2L1676.9 979.3L1676.9 977.3L1676.9 975.3L1676.9 973.3L1676.9 971.4L1676.9 969.4L1676.9 967.4L1676.9 965.5L1676.9 963.5L1678.2 963.5L1679.5 963.6L1680.8 963.6L1681.6 965.7L1682.4 967.8L1683.2 969.9L1684.0 971.9L1684.8 974.0L1685.5 976.0L1686.3 978.0L1687.1 980.1L1687.9 982.1L1687.9 981.1L1687.8 980.2L1687.8 979.3L1687.7 978.4L1687.7 977.6L1687.7 975.7L1687.7 973.8L1687.7 971.9L1687.7 970.0L1687.7 968.1L1687.7 966.2L1687.7 964.3L1689.2 964.5L1690.7 964.8L1690.7 966.6L1690.7 968.5L1690.7 970.4L1690.7 972.2L1690.7 974.1L1690.7 976.0L1690.7 977.8L1690.7 979.7L1690.7 981.6L1690.7 983.4L1690.7 985.3L1690.7 987.1ZM1695.3 987.1L1695.3 985.4L1695.3 983.6L1695.3 981.8L1695.3 980.0L1695.3 978.2L1695.3 976.4L1695.3 974.6L1695.3 972.8L1695.3 971.0L1695.3 969.2L1695.3 967.4L1695.3 965.6L1696.4 965.8L1697.6 966.1L1698.7 966.3L1699.9 966.6L1701.1 966.9L1702.2 967.2L1703.4 967.6L1704.6 967.9L1705.7 968.2L1706.9 968.6L1706.9 970.1L1706.9 971.6L1705.7 971.3L1704.4 971.0L1703.2 970.7L1702.0 970.4L1700.8 970.1L1699.6 969.9L1698.4 969.6L1698.4 971.4L1698.4 973.1L1698.4 974.9L1699.7 975.1L1701.0 975.3L1702.3 975.5L1703.6 975.7L1704.9 975.9L1706.2 976.1L1706.2 977.7L1706.2 979.2L1704.9 979.0L1703.6 978.8L1702.3 978.7L1701.0 978.5L1699.7 978.4L1698.4 978.3L1698.4 980.1L1698.4 981.9L1698.4 983.8L1699.6 983.8L1700.9 983.9L1702.2 983.9L1703.5 984.0L1704.7 984.0L1706.0 984.1L1707.3 984.2L1707.3 985.7L1707.3 987.1ZM1717.3 974.8L1717.3 976.0L1717.3 977.3L1717.3 978.5L1717.3 979.7L1717.3 981.0L1717.3 982.2L1717.3 983.4L1717.3 984.7L1717.3 985.9L1717.3 987.1L1716.0 987.1L1714.8 987.1L1714.8 985.8L1714.8 984.5L1714.8 983.2L1714.8 981.9L1714.8 980.6L1714.8 979.3L1714.8 977.9L1714.8 976.6L1714.8 975.3L1714.8 974.0L1713.9 973.7L1713.0 973.4L1712.0 973.1L1711.1 972.8L1711.1 971.4L1711.1 970.0L1712.1 970.4L1713.1 970.8L1714.1 971.1L1715.1 971.5L1716.0 971.9L1717.0 972.3L1718.0 972.8L1719.0 973.2L1720.0 973.6L1721.0 974.1L1721.0 975.1L1721.0 976.2ZM1652.5 1014.4L1652.0 1012.5L1651.5 1010.6L1651.1 1008.7L1649.5 1008.4L1648.0 1008.1L1646.5 1007.8L1645.0 1007.5L1644.5 1009.1L1644.0 1010.6L1643.5 1012.1L1641.8 1011.5L1640.2 1011.0L1640.7 1009.6L1641.1 1008.3L1641.6 1006.9L1642.1 1005.4L1642.6 1004.0L1643.1 1002.5L1643.6 1001.0L1644.1 999.4L1644.6 997.9L1645.0 996.3L1645.5 994.7L1646.0 993.1L1647.3 993.1L1648.7 993.1L1650.0 993.1L1650.5 994.8L1651.0 996.5L1651.4 998.3L1651.9 1000.1L1652.4 1001.9L1652.9 1003.8L1653.4 1005.6L1653.9 1007.5L1654.4 1009.3L1654.8 1011.2L1655.3 1013.1L1655.8 1015.0ZM1648.0 996.2L1647.9 996.5L1647.9 996.7L1647.8 996.9L1647.8 997.1L1647.7 997.4L1647.7 997.6L1647.5 998.1L1647.3 999.1L1646.9 1000.5L1646.4 1002.3L1645.7 1004.6L1647.2 1004.8L1648.8 1005.1L1650.3 1005.3L1649.8 1003.2L1649.3 1001.2L1648.7 999.2L1648.2 997.2ZM1671.8 1016.7L1670.9 1014.4L1669.9 1012.2L1669.0 1009.9L1668.1 1007.6L1666.7 1007.6L1665.4 1007.5L1664.1 1007.4L1664.1 1009.6L1664.1 1011.8L1664.1 1014.0L1664.1 1016.2L1662.4 1016.0L1660.7 1015.8L1660.7 1013.9L1660.7 1012.0L1660.7 1010.1L1660.7 1008.2L1660.7 1006.3L1660.7 1004.4L1660.7 1002.5L1660.7 1000.6L1660.7 998.7L1660.7 996.8L1660.7 994.9L1660.7 993.1L1662.0 993.1L1663.4 993.1L1664.7 993.1L1666.1 993.1L1667.4 993.1L1668.8 993.1L1669.9 993.1L1670.9 993.3L1671.8 993.7L1672.6 994.2L1673.2 994.9L1673.8 995.7L1674.2 996.6L1674.6 997.6L1674.8 998.8L1674.8 1000.1L1674.8 1001.1L1674.7 1002.0L1674.5 1002.9L1674.2 1003.7L1673.9 1004.4L1673.4 1005.1L1673.0 1005.7L1672.4 1006.1L1671.9 1006.5L1671.2 1006.8L1672.1 1008.8L1673.0 1010.8L1673.9 1012.8L1674.7 1014.8L1675.6 1016.7ZM1671.4 1000.3L1671.3 999.1L1670.9 998.1L1670.3 997.4L1669.5 997.0L1668.4 996.9L1667.0 996.9L1665.5 996.8L1664.1 996.8L1664.1 999.1L1664.1 1001.4L1664.1 1003.7L1665.6 1003.7L1667.0 1003.8L1668.5 1003.8L1669.1 1003.8L1669.5 1003.7L1670.0 1003.5L1670.3 1003.3L1670.7 1002.9L1670.9 1002.5L1671.1 1002.1L1671.3 1001.5L1671.4 1001.0L1671.4 1000.3ZM1680.5 1016.6L1680.5 1014.6L1680.5 1012.7L1680.5 1010.7L1680.5 1008.7L1680.5 1006.8L1680.5 1004.8L1680.5 1002.9L1680.5 1000.9L1680.5 998.9L1680.5 997.0L1680.5 995.0L1680.5 993.1L1681.7 993.1L1682.9 993.1L1684.1 993.1L1685.3 993.1L1686.5 993.1L1687.7 993.1L1688.9 993.1L1690.1 993.1L1691.3 993.1L1692.5 993.1L1692.5 994.8L1692.5 996.6L1691.2 996.7L1690.0 996.7L1688.7 996.7L1687.4 996.8L1686.2 996.8L1684.9 996.8L1683.7 996.8L1683.7 998.8L1683.7 1000.7L1683.7 1002.7L1685.0 1002.6L1686.4 1002.6L1687.7 1002.5L1689.1 1002.4L1690.4 1002.3L1691.8 1002.2L1691.8 1004.0L1691.8 1005.8L1690.4 1006.0L1689.1 1006.1L1687.7 1006.2L1686.4 1006.3L1685.0 1006.4L1683.7 1006.4L1683.7 1008.5L1683.7 1010.5L1683.7 1012.6L1685.0 1012.5L1686.3 1012.3L1687.6 1012.2L1689.0 1012.1L1690.3 1011.9L1691.6 1011.7L1692.9 1011.5L1692.9 1013.3L1692.9 1015.1ZM1697.4 1014.2L1697.4 1012.4L1697.4 1010.6L1697.4 1008.9L1697.4 1007.1L1697.4 1005.4L1697.4 1003.6L1697.4 1001.8L1697.4 1000.1L1697.4 998.3L1697.4 996.6L1697.4 994.8L1697.4 993.1L1699.0 993.1L1700.6 993.1L1700.6 994.8L1700.6 996.5L1700.6 998.2L1700.6 999.9L1700.6 1001.6L1700.6 1003.3L1700.6 1005.0L1700.6 1006.7L1700.6 1008.4L1700.6 1010.1L1702.0 1009.8L1703.3 1009.5L1704.7 1009.2L1706.0 1008.8L1707.4 1008.5L1708.7 1008.1L1708.7 1009.5L1708.7 1011.0ZM1712.5 1009.6L1712.5 1008.3L1712.5 1006.9L1712.5 1005.5L1712.5 1004.1L1712.5 1002.7L1712.5 1001.3L1712.5 1000.0L1712.5 998.6L1712.5 997.2L1712.5 995.8L1712.5 994.4L1712.5 993.1L1713.7 993.1L1714.9 993.1L1714.9 994.4L1714.9 995.7L1714.9 997.0L1714.9 998.3L1714.9 999.6L1714.9 1000.9L1714.9 1002.2L1714.9 1003.6L1714.9 1004.9L1714.9 1006.2L1715.9 1005.8L1716.9 1005.5L1718.0 1005.1L1719.0 1004.8L1720.0 1004.4L1721.0 1004.0L1721.0 1005.1L1721.0 1006.1Z"/></g>
<text transform="translate(1604.97 1050.70) scale(1.0124 1)" font-size="13.66" font-weight="bold" font-style="normal" fill="#1f3470" letter-spacing="0.300">PARTS &amp; SERVICES</text>
</g>
<g id="mapa"><defs>
<linearGradient id="gM" x1="0" y1="0" x2="0" y2="1"><stop offset="0" stop-color="#8ea9a0"/><stop offset="0.18" stop-color="#6f927e"/><stop offset="0.55" stop-color="#688a76"/><stop offset="1" stop-color="#566a5d"/></linearGradient>
<linearGradient id="gA1" x1="0" y1="0" x2="0" y2="1"><stop offset="0" stop-color="#6f93d0"/><stop offset="0.2" stop-color="#93a9c4"/><stop offset="0.36" stop-color="#a9b3b4"/><stop offset="0.5" stop-color="#7b9a88"/><stop offset="1" stop-color="#5f7f6c"/></linearGradient>
<linearGradient id="gP" x1="0" y1="0" x2="0" y2="1"><stop offset="0" stop-color="#6389cc"/><stop offset="0.3" stop-color="#7d9fd4"/><stop offset="0.6" stop-color="#88a6c8"/><stop offset="0.72" stop-color="#7f9f96"/><stop offset="1" stop-color="#668976"/></linearGradient>
<linearGradient id="gPd" x1="0.3" y1="0.6" x2="1" y2="0"><stop offset="0.45" stop-color="#2b4c98" stop-opacity="0"/><stop offset="0.75" stop-color="#2b4c98" stop-opacity="0.85"/><stop offset="1" stop-color="#1c2f66"/></linearGradient>
<linearGradient id="gA2" gradientUnits="userSpaceOnUse" x1="2808.0" y1="989.4" x2="2792.2" y2="1026.0"><stop offset="0" stop-color="#202020"/><stop offset="0.216" stop-color="#232323"/><stop offset="0.351" stop-color="#1b2c5e"/><stop offset="0.432" stop-color="#1f3a7e"/><stop offset="0.54" stop-color="#2f55a3"/><stop offset="0.70" stop-color="#5279c2"/><stop offset="0.84" stop-color="#6f94d2"/><stop offset="1" stop-color="#7b9fd8"/></linearGradient>
<linearGradient id="gMd" x1="0" y1="0" x2="0" y2="1"><stop offset="0" stop-color="#48554c" stop-opacity="0"/><stop offset="0.35" stop-color="#48554c" stop-opacity="0.8"/><stop offset="1" stop-color="#48554c" stop-opacity="0.85"/></linearGradient>
<linearGradient id="gMw" x1="0" y1="0" x2="0" y2="1"><stop offset="0" stop-color="#c3c9c9" stop-opacity="0.85"/><stop offset="1" stop-color="#c3c9c9" stop-opacity="0"/></linearGradient>
</defs>
<path fill="url(#gM)" d="M2617.8 988.1H2635.1L2645.2 1005.6L2654.5 988.1H2671.8V1046.9H2656V1014.8L2650.2 1024.5H2640.5L2634 1014.8V1046.9H2617.8Z"/>
<rect x="2617.8" y="1010" width="16.2" height="36.9" fill="url(#gMd)"/>
<rect x="2656" y="1020" width="15.8" height="26.9" fill="url(#gMd)" opacity="0.45"/>
<path fill="url(#gMw)" d="M2617.8 988.1H2635.1L2638.5 994V996H2617.8Z M2654.5 988.1H2671.8V999H2648.7Z"/>
<path fill="url(#gA1)" fill-rule="evenodd" d="M2695 988.1H2715L2732.3 1046.9H2716.1L2712.4 1034.8H2696.7L2692.9 1046.9H2676.2ZM2704.8 1007.3L2698.8 1026.2H2710.2Z"/>
<path fill="url(#gP)" fill-rule="evenodd" d="M2738.3 988.1H2763.7A18.75 18.75 0 0 1 2763.7 1025.6H2752.8V1046.9H2738.3ZM2752.8 1002.4V1012.7H2763A5.15 5.15 0 0 0 2763 1002.4Z"/>
<path fill="url(#gPd)" fill-rule="evenodd" d="M2738.3 988.1H2763.7A18.75 18.75 0 0 1 2763.7 1025.6H2752.8V1046.9H2738.3ZM2752.8 1002.4V1012.7H2763A5.15 5.15 0 0 0 2763 1002.4Z"/>
<path fill="url(#gA2)" fill-rule="evenodd" d="M2797.3 988.1H2819.3L2836 1046.9H2819.6L2816 1034.8H2800.6L2797.2 1046.9H2780.9ZM2808.2 1007.3L2802.6 1026.2H2814.4Z"/>
</g>
<text transform="translate(2617.28 1060.80) scale(0.7409 1)" font-size="8.58" font-weight="normal" font-style="normal" fill="#5c5c5c" letter-spacing="1.250">MOVIMENTO DAS ATIVIDADES EM PEÇAS E ACESSÓRIOS</text>
</svg></body></html>
